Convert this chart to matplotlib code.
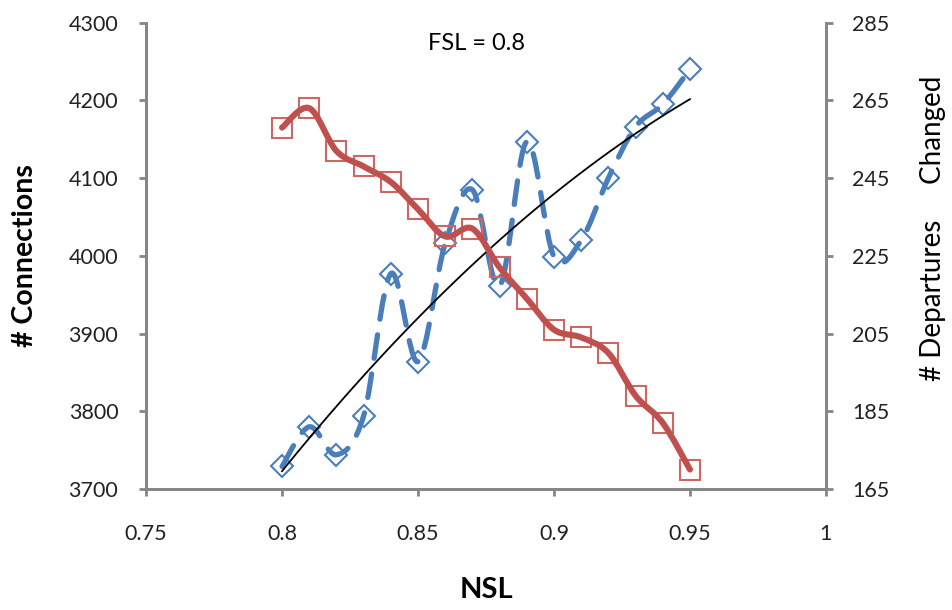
import matplotlib
matplotlib.use("Agg")
import matplotlib.pyplot as plt
from matplotlib.path import Path
from matplotlib.patches import PathPatch
import numpy as np

nsl = [0.80, 0.81, 0.82, 0.83, 0.84, 0.85, 0.86, 0.87, 0.88, 0.89, 0.90, 0.91, 0.92, 0.93, 0.94, 0.95]
connections = [3729, 3780, 3744, 3794, 3977, 3864, 4016, 4085, 3961, 4147, 3999, 4020, 4100, 4166, 4195, 4240]
departures = [258, 263, 252, 248, 244, 237, 230, 232, 222, 214, 206, 204, 200, 189, 182, 170]

x_ticks = [0.75, 0.8, 0.85, 0.9, 0.95, 1]
x_labels = ["0.75", "0.8", "0.85", "0.9", "0.95", "1"]
left_ticks = [3700, 3800, 3900, 4000, 4100, 4200, 4300]
right_ticks = [165, 185, 205, 225, 245, 265, 285]

BLUE = "#4A7EBB"
RED = "#C0504D"
GRAY = "#868686"

plt.rcParams['font.family'] = ['Lato', 'DejaVu Sans']


def smooth_path(xs, ys):
	# excel style smoothed line: catmull-rom segments as cubic beziers
	pts = np.column_stack([xs, ys]).astype(float)
	verts = [pts[0]]
	codes = [Path.MOVETO]
	n = len(pts)
	for i in range(n - 1):
		p0 = pts[max(i - 1, 0)]
		p1 = pts[i]
		p2 = pts[i + 1]
		p3 = pts[min(i + 2, n - 1)]
		verts += [p1 + (p2 - p0) / 6.0, p2 - (p3 - p1) / 6.0, p2]
		codes += [Path.CURVE4] * 3
	return Path(verts, codes)


def style_axis(ax):
	for s in ax.spines.values():
		s.set_color(GRAY)
		s.set_linewidth(2)
	ax.spines['top'].set_visible(False)
	ax.tick_params(colors=GRAY, width=2, length=5, labelcolor="#222222", labelsize=15.5)


fig = plt.figure(figsize=(9.52, 6.10), dpi=100)
ax = fig.add_axes([0.1534, 0.1984, 0.7142, 0.7644])
ax2 = ax.twinx()

# blue series on the primary axis
p = PathPatch(smooth_path(nsl, connections), fill=False, edgecolor=BLUE, lw=3.8,
	linestyle=(0, (4.5, 3)), zorder=4)
p.set_capstyle('round')
ax.add_patch(p)
ax.plot(nsl, connections, linestyle='none', marker='D', markersize=11, markerfacecolor='none',
	markeredgecolor=BLUE, markeredgewidth=1.5, zorder=3)

# polynomial trendline
coef = np.polyfit(nsl, connections, 2)
tx = np.linspace(nsl[0], nsl[-1], 100)
ax.plot(tx, np.polyval(coef, tx), color='black', lw=1.3, zorder=5)

# red series on the secondary axis
p2 = PathPatch(smooth_path(nsl, departures), fill=False, edgecolor=RED, lw=4.4, zorder=4)
p2.set_capstyle('round')
ax2.add_patch(p2)
ax2.plot(nsl, departures, linestyle='none', marker='s', markersize=15, markerfacecolor='none',
	markeredgecolor="#CC6764", markeredgewidth=1.5, zorder=3)

ax.set_xlim(0.75, 1.0)
ax.set_ylim(3700, 4300)
ax2.set_ylim(165, 285)
ax.set_xticks(x_ticks)
ax.set_xticklabels(x_labels)
ax.set_yticks(left_ticks)
ax2.set_yticks(right_ticks)

style_axis(ax)
style_axis(ax2)
ax.tick_params(axis='x', pad=20)
ax.tick_params(axis='y', pad=15)
ax2.tick_params(axis='y', pad=14)

fig.text(486 / 952, 1 - 590 / 610, "NSL", fontsize=21, fontweight='bold', ha='center', va='center')
fig.text(25 / 952, 1 - 256 / 610, "# Connections", fontsize=20.5, fontweight='bold',
	rotation=90, ha='center', va='center')
fig.text(933 / 952, 1 - 228 / 610, "# Departures     Changed", fontsize=20,
	rotation=90, ha='center', va='center')

fig.text(476 / 952, 1 - 43 / 610, "FSL = 0.8", fontsize=17, ha='center', va='center')

fig.savefig("out.png", dpi=100)
